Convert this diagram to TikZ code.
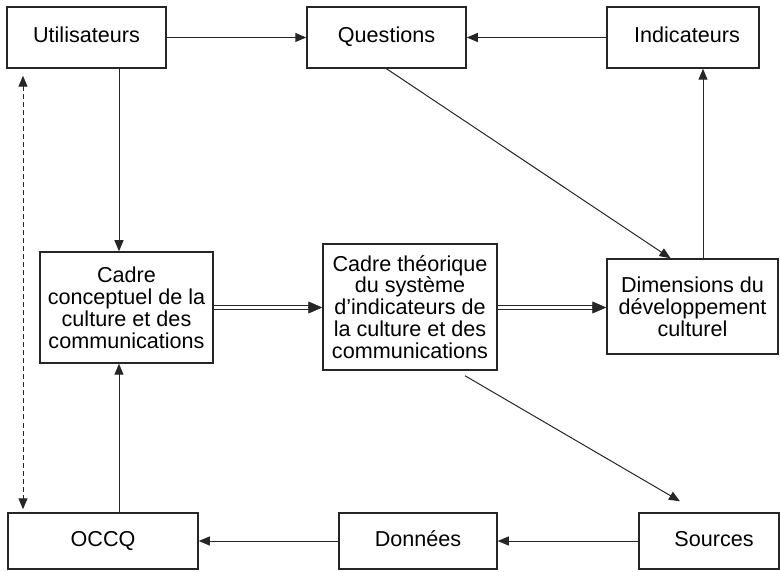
\documentclass[tikz,border=0pt]{standalone}
\usepackage{fontspec}
\setmainfont{Liberation Sans}
\usetikzlibrary{arrows.meta,calc}
\begin{document}
\begin{tikzpicture}[x=1pt,y=-1pt,
  box/.style={draw=black!85, line width=1.5pt, rectangle, inner sep=0pt, align=center,
    font=\fontsize{21.6}{21.9}\selectfont},
  one/.style={box, text height=15.5pt, text depth=4.5pt},
  conn/.style={draw=black!85, line width=1pt, -{Triangle[length=11pt,width=9pt]}},
  dashconn/.style={draw=black!85, line width=1pt, dash pattern=on 5pt off 3pt,
    {Triangle[length=11pt,width=9pt]}-{Triangle[length=11pt,width=9pt]}},
  dblline/.style={draw=black!85, line width=0.9pt, double=white, double distance=2.6pt},
  dbltip/.style={draw=black!85, line width=0.5pt, -{Triangle[length=14pt,width=12pt]}}
]
\useasboundingbox (0,0) rectangle (780,572);

\node[one, minimum width=159pt, minimum height=61pt] (u) at (86.5,37.5) {Utilisateurs};
\node[one, minimum width=159pt, minimum height=61pt] (q) at (386.5,37.5) {Questions};
\node[one, minimum width=152pt, minimum height=61pt] (ind) at (683,37.5) {\hspace*{8pt}Indicateurs};
\node[box, minimum width=173pt, minimum height=111pt] (cc) at (126.5,307.5)
  {Cadre\\conceptuel de la\\culture et des\\communications};
\node[box, minimum width=174pt, minimum height=126pt] (ct) at (410,307)
  {Cadre théorique\\du système\\d’indicateurs de\\la culture et des\\communications};
\node[box, minimum width=171pt, minimum height=95pt] (dim) at (692.5,306.5)
  {Dimensions du\\développement\\culturel};
\node[one, minimum width=190pt, minimum height=56pt] (occq) at (103,541) {OCCQ};
\node[one, minimum width=158pt, minimum height=56pt] (don) at (418,541) {Données};
\node[one, minimum width=140pt, minimum height=56pt] (src) at (709,541) {\hspace*{10pt}Sources};

% top row
\draw[conn] (u.east) -- (q.west);
\draw[conn] (ind.west) -- (q.east);
% bottom row
\draw[conn] (src.west) -- (don.east);
\draw[conn] (don.west) -- (occq.east);
% verticals
\draw[conn] ([xshift=32.5pt]u.south) -- ([xshift=32.5pt]u.south |- cc.north);
\draw[conn] ([xshift=16pt]occq.north) -- ([xshift=16pt]occq.north |- cc.south);
\draw[conn] ([xshift=10.5pt]dim.north) -- ([xshift=10.5pt]dim.north |- ind.south);
% diagonals
\draw[conn] (q.south) -- ([xshift=-22pt]dim.north);
\draw[conn] ([xshift=55pt,yshift=-5pt]ct.south) -- ([xshift=-29pt,yshift=11pt]src.north);
% dashed
\coordinate (dtop) at ([xshift=-63.5pt,yshift=-7pt]u.south);
\coordinate (dbot) at ([yshift=3pt]dtop |- occq.north);
\draw[dashconn] (dtop) -- (dbot);
% double arrows
\coordinate (d1) at (cc.east -| ct.west);
\draw[dblline] (cc.east) -- ([xshift=-11pt]d1);
\draw[dbltip] ([xshift=-14pt]d1) -- (d1);
\coordinate (d2) at (cc.east -| dim.west);
\draw[dblline] (cc.east -| ct.east) -- ([xshift=-11pt]d2);
\draw[dbltip] ([xshift=-14pt]d2) -- (d2);
\end{tikzpicture}
\end{document}
